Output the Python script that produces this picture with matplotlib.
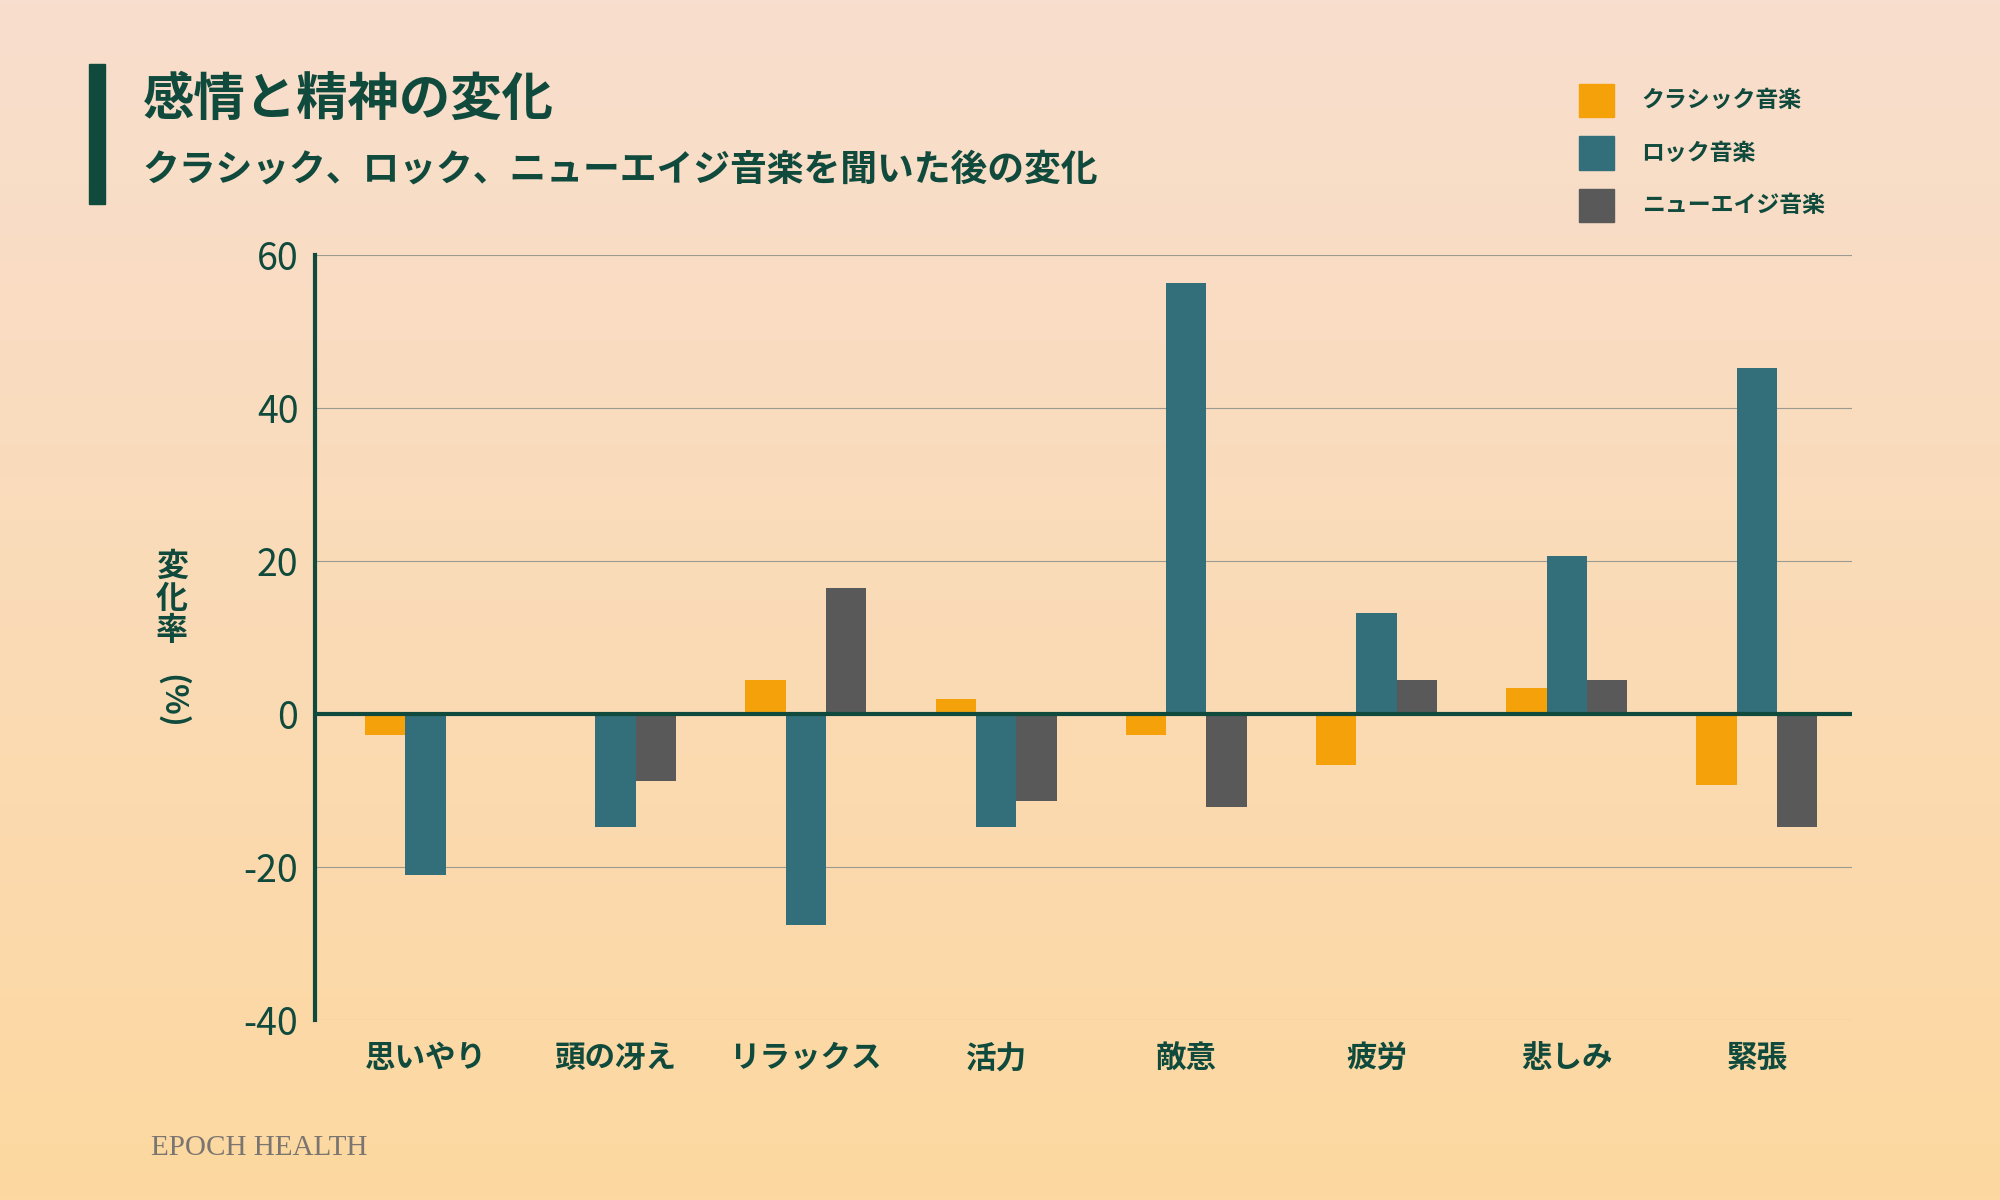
import matplotlib
matplotlib.use("Agg")
import matplotlib.pyplot as plt
import numpy as np
from matplotlib.patches import Rectangle

plt.rcParams['font.family'] = ['Noto Sans CJK JP', 'DejaVu Sans']

categories = ['思いやり', '頭の冴え', 'リラックス', '活力', '敵意', '疲労', '悲しみ', '緊張']
classical = [-2.7, 0, 4.5, 2.0, -2.7, -6.7, 3.4, -9.3]
rock = [-21.0, -14.7, -27.5, -14.7, 56.3, 13.2, 20.7, 45.3]
newage = [0, -8.7, 16.5, -11.3, -12.2, 4.5, 4.5, -14.7]
series_names = ['クラシック音楽', 'ロック音楽', 'ニューエイジ音楽']
colors = ['#f5a20a', '#336e7b', '#595959']
yticks = [-40, -20, 0, 20, 40, 60]

W, H = 1568, 941
dark = '#0f4a3c'
fig = plt.figure(figsize=(20, 12), dpi=100)

bg = fig.add_axes([0, 0, 1, 1])
top = np.array([248, 222, 206]) / 255
bot = np.array([253, 216, 160]) / 255
t = np.linspace(0, 1, 256)[:, None, None]
grad = top * (1 - t) + bot * t
bg.imshow(np.repeat(grad, 2, axis=1), aspect='auto', extent=[0, 1, 0, 1])
bg.set_xlim(0, 1); bg.set_ylim(0, 1); bg.axis('off')

def fx(px): return px / W
def fy(py): return 1 - py / H

bg.add_patch(Rectangle((fx(70), fy(160)), fx(12), (110) / H, color=dark, transform=bg.transAxes))
bg.text(fx(112), fy(78), '感情と精神の変化', fontsize=37, fontweight='bold', color=dark, va='center')
bg.text(fx(112), fy(133), 'クラシック、ロック、ニューエイジ音楽を聞いた後の変化', fontsize=26.5, fontweight='bold', color=dark, va='center')
for i, (n, c) in enumerate(zip(series_names, colors)):
    yc = 79 + 41 * i
    bg.add_patch(Rectangle((fx(1238), fy(yc + 13)), fx(27), 26 / H, color=c))
    bg.text(fx(1287), fy(yc), n, fontsize=16.5, fontweight='bold', color=dark, va='center')
bg.text(fx(135), fy(470), '変\n化\n率', fontsize=23, fontweight='bold', color=dark, ha='center', va='center', linespacing=1.0)
bg.text(fx(135), fy(550), '(%)', fontsize=23, fontweight='bold', color=dark, ha='center', va='center', rotation=-90)
bg.text(fx(118), fy(900), 'EPOCH HEALTH', fontsize=21, color='#7a7570', family='Liberation Serif', va='center')

ax = fig.add_axes([fx(247), fy(800), fx(1452 - 247), (800 - 200) / H])
ax.patch.set_alpha(0)
x = np.arange(len(categories))
w = 0.212
for k, (vals, c) in enumerate(zip([classical, rock, newage], colors)):
    ax.bar(x + (k - 1) * w, vals, width=w, color=c, zorder=3)
ax.set_ylim(-40, 60)
ax.set_xlim(-0.58, 7.5)
ax.set_yticks(yticks)
ax.set_yticklabels([str(v) for v in yticks], fontsize=27, color=dark)
ax.set_xticks(x)
ax.set_xticklabels(categories, fontsize=22, fontweight='bold', color=dark)
ax.tick_params(length=0, pad=12)
ax.tick_params(axis='x', pad=16)
ax.grid(axis='y', color='#9a9a90', linewidth=0.8, zorder=0)
ax.axhline(0, color=dark, linewidth=3, zorder=4)
for s in ['top', 'right', 'bottom']:
    ax.spines[s].set_visible(False)
ax.spines['left'].set_color(dark)
ax.spines['left'].set_linewidth(3)

fig.savefig('out.png', dpi=100)
